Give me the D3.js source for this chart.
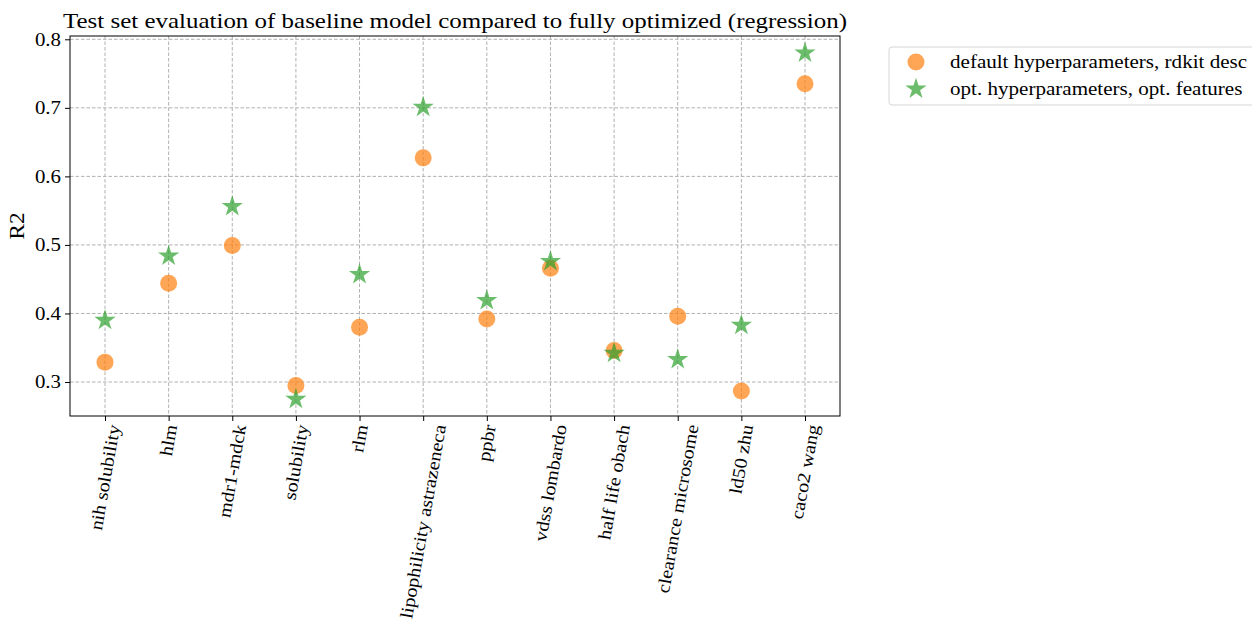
<!DOCTYPE html>
<html>
<head>
<meta charset="utf-8">
<script src="https://cdn.jsdelivr.net/npm/d3@7"></script>
<style>
  body { margin: 0; background: #fff; }
  svg { display: block; font-family: "Liberation Serif", "DejaVu Serif", serif; }
</style>
</head>
<body>
<svg id="chart"></svg>
<script>
const datasets = ["nih solubility", "hlm", "mdr1-mdck", "solubility", "rlm", "lipophilicity astrazeneca",
  "ppbr", "vdss lombardo", "half life obach", "clearance microsome", "ld50 zhu", "caco2 wang"]
const baseline = [0.329, 0.444, 0.499, 0.295, 0.380, 0.627, 0.392, 0.466, 0.346, 0.396, 0.287, 0.735]
const optimized = [0.390, 0.484, 0.556, 0.275, 0.457, 0.701, 0.419, 0.476, 0.342, 0.333, 0.383, 0.780]
const yTicks = [0.3, 0.4, 0.5, 0.6, 0.7, 0.8]
const legendLabels = ["default hyperparameters, rdkit desc", "opt. hyperparameters, opt. features"]

const w = 1252
const h = 626
const plotLeft = 70, plotRight = 840, plotTop = 36, plotBottom = 416

const orange = "#ff7f0e"
const green = "#2ca02c"

// the reference uses Computer Modern which runs wider than Times, so stretch a bit
const widen = 1.16
function stretch(sel, factor) {
  sel.each(function () {
    const len = this.getComputedTextLength()
    d3.select(this)
      .attr("textLength", len * factor)
      .attr("lengthAdjust", "spacingAndGlyphs")
  })
}

const svg = d3.select("#chart").attr("width", w).attr("height", h)

// scales (categorical with 5% margins like matplotlib)
const xScale = d3.scaleLinear()
  .domain([-0.55, datasets.length - 1 + 0.55])
  .range([plotLeft, plotRight])

const yScale = d3.scaleLinear()
  .domain([0.2504, 0.8048])
  .range([plotBottom, plotTop])

// grid
svg.append("g")
  .selectAll("line")
  .data(datasets)
  .enter()
  .append("line")
  .attr("x1", (d, i) => xScale(i))
  .attr("x2", (d, i) => xScale(i))
  .attr("y1", plotTop)
  .attr("y2", plotBottom)
  .attr("stroke", "#b0b0b0")
  .attr("stroke-width", 1)
  .attr("stroke-dasharray", "3.5,2")

svg.append("g")
  .selectAll("line")
  .data(yTicks)
  .enter()
  .append("line")
  .attr("x1", plotLeft)
  .attr("x2", plotRight)
  .attr("y1", d => yScale(d))
  .attr("y2", d => yScale(d))
  .attr("stroke", "#b0b0b0")
  .attr("stroke-width", 1)
  .attr("stroke-dasharray", "3.5,2")

// axes
const leftAxis = d3.axisLeft(yScale)
  .tickValues(yTicks)
  .tickFormat(d3.format(".1f"))
  .tickSize(5)
  .tickPadding(4)

const yAxis = svg.append("g")
  .attr("transform", `translate(${plotLeft}, 0)`)
  .call(leftAxis)
yAxis.select(".domain").remove()
yAxis.selectAll("text")
  .attr("font-family", "Liberation Serif, serif")
  .attr("font-size", 18)
  .attr("fill", "#000")
  .call(stretch, widen)

const bottomAxis = d3.axisBottom(xScale)
  .tickValues(d3.range(datasets.length))
  .tickFormat("")
  .tickSize(5)

const xAxis = svg.append("g")
  .attr("transform", `translate(0, ${plotBottom})`)
  .call(bottomAxis)
xAxis.select(".domain").remove()

// rotated category labels, bbox centred on the tick like matplotlib rotation=80
const labels = svg.append("g")
labels.selectAll("text")
  .data(datasets)
  .enter()
  .append("text")
  .text(d => d)
  .attr("font-size", 18)
  .attr("text-anchor", "end")
  .attr("dy", "0.35em")
  .call(stretch, 1.12)
  .attr("transform", "rotate(-80)")
  .each(function (d, i) {
    const b = this.getBoundingClientRect()
    const dx = xScale(i) - (b.left + b.width / 2)
    const dy = plotBottom + 7 - b.top
    d3.select(this).attr("transform", `translate(${dx}, ${dy}) rotate(-80)`)
  })

// frame
svg.append("rect")
  .attr("x", plotLeft)
  .attr("y", plotTop)
  .attr("width", plotRight - plotLeft)
  .attr("height", plotBottom - plotTop)
  .attr("fill", "none")
  .attr("stroke", "#000")
  .attr("stroke-width", 1)

// points
svg.append("g")
  .selectAll("circle")
  .data(baseline)
  .enter()
  .append("circle")
  .attr("cx", (d, i) => xScale(i))
  .attr("cy", d => yScale(d))
  .attr("r", 8.5)
  .attr("fill", orange)
  .attr("fill-opacity", 0.7)

const star = d3.symbol().type(d3.symbolStar).size(140)

svg.append("g")
  .selectAll("path")
  .data(optimized)
  .enter()
  .append("path")
  .attr("d", star)
  .attr("transform", (d, i) => `translate(${xScale(i)}, ${yScale(d)})`)
  .attr("fill", green)
  .attr("fill-opacity", 0.7)

// title
svg.append("text")
  .attr("x", (plotLeft + plotRight) / 2)
  .attr("y", 28)
  .attr("text-anchor", "middle")
  .attr("font-size", 22)
  .attr("textLength", 784)
  .attr("lengthAdjust", "spacingAndGlyphs")
  .text("Test set evaluation of baseline model compared to fully optimized (regression)")

// y label
svg.append("text")
  .attr("transform", `translate(24, ${(plotTop + plotBottom) / 2}) rotate(-90)`)
  .attr("text-anchor", "middle")
  .attr("font-size", 20)
  .text("R2")
  .call(stretch, widen)

// legend
const legend = svg.append("g")
  .attr("transform", "translate(889, 47)")

legend.append("rect")
  .attr("width", 372)
  .attr("height", 58)
  .attr("rx", 3)
  .attr("fill", "#fff")
  .attr("stroke", "#d6d6d6")
  .attr("stroke-width", 1)

legend.append("circle")
  .attr("cx", 27)
  .attr("cy", 15)
  .attr("r", 8.5)
  .attr("fill", orange)
  .attr("fill-opacity", 0.7)

legend.append("path")
  .attr("d", star)
  .attr("transform", "translate(27, 42)")
  .attr("fill", green)
  .attr("fill-opacity", 0.7)

legend.selectAll("text")
  .data(legendLabels)
  .enter()
  .append("text")
  .attr("x", 61)
  .attr("y", (d, i) => 15 + i * 27)
  .attr("dy", "0.35em")
  .attr("font-size", 18)
  .text(d => d)
  .call(stretch, 1.17)
</script>
</body>
</html>
